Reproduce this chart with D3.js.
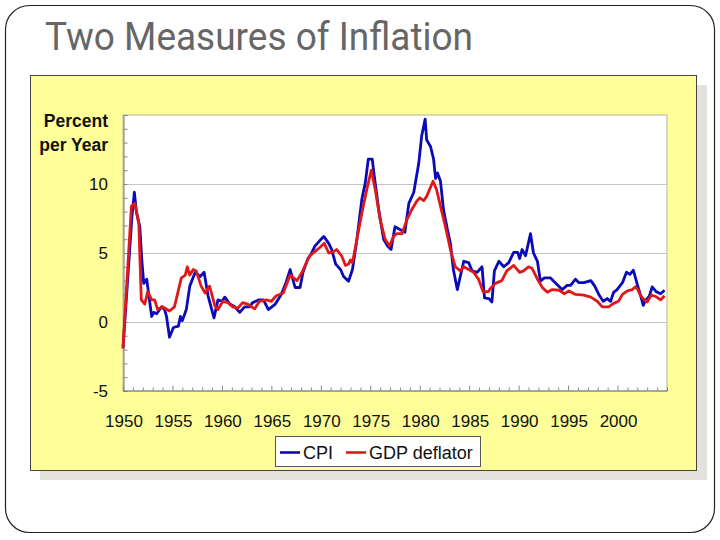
<!DOCTYPE html>
<html><head><meta charset="utf-8">
<script src="https://cdn.jsdelivr.net/npm/d3@7"></script>
<style>html,body{margin:0;padding:0;background:#fff;}svg{display:block;}</style>
</head><body>
<svg id="c" width="720" height="540"></svg>
<script>
const title = "Two Measures of Inflation";
const yTicks = [-5, 0, 5, 10];
const yearTicks = [1950,1955,1960,1965,1970,1975,1980,1985,1990,1995,2000];
const seriesNames = ["CPI", "GDP deflator"];
const cpiYears = [1950.0,1950.9,1951.15,1951.35,1951.7,1951.9,1952.1,1952.4,1952.6,1952.9,1953.1,1953.4,1953.9,1954.2,1954.4,1954.7,1955.1,1955.6,1955.8,1956.0,1956.4,1956.75,1957.3,1957.8,1958.2,1958.6,1959.2,1959.6,1960.0,1960.3,1960.8,1961.3,1961.8,1962.3,1962.8,1963.1,1963.7,1964.2,1964.7,1965.4,1966.0,1966.5,1966.9,1967.4,1967.9,1968.2,1968.7,1969.0,1969.4,1969.9,1970.3,1970.8,1971.1,1971.5,1972.0,1972.3,1972.8,1973.2,1973.65,1974.15,1974.5,1974.8,1975.2,1975.4,1975.85,1976.35,1976.75,1977.1,1977.5,1978.0,1978.5,1978.9,1979.4,1979.9,1980.2,1980.55,1980.7,1981.1,1981.4,1981.6,1981.8,1982.1,1982.4,1982.8,1983.1,1983.4,1983.8,1984.1,1984.45,1984.95,1985.3,1985.8,1986.3,1986.55,1987.0,1987.3,1987.55,1988.0,1988.5,1989.0,1989.5,1989.9,1990.1,1990.35,1990.7,1991.2,1991.5,1991.9,1992.2,1992.6,1993.2,1993.7,1994.4,1994.9,1995.25,1995.75,1996.1,1996.6,1997.3,1997.7,1998.1,1998.55,1998.95,1999.3,1999.6,1999.95,2000.5,2000.9,2001.25,2001.6,2002.0,2002.3,2002.6,2002.85,2003.2,2003.5,2003.9,2004.35,2004.75];
const cpiValues = [-1.9,7.6,9.4,8.0,6.9,4.5,2.8,3.1,2.0,0.4,0.7,0.6,1.1,0.9,0.4,-1.1,-0.4,-0.3,0.4,0.1,0.9,2.6,3.6,3.3,3.6,1.9,0.3,1.6,1.5,1.8,1.3,1.1,0.7,1.1,1.1,1.4,1.6,1.6,0.9,1.3,2.0,2.9,3.8,2.5,2.5,3.6,4.6,4.9,5.5,5.9,6.2,5.7,5.25,4.2,3.8,3.3,2.95,3.8,6.0,8.9,10.1,11.8,11.8,10.6,8.15,6.0,5.5,5.25,6.9,6.7,6.5,8.6,9.4,11.5,13.5,14.7,13.2,12.7,11.8,10.4,10.8,10.2,8.15,6.7,5.7,3.8,2.35,3.3,4.4,4.3,3.7,3.6,4.0,1.75,1.7,1.45,3.7,4.4,4.0,4.3,5.05,5.05,4.6,5.25,4.8,6.4,5.0,4.4,2.95,3.2,3.2,2.85,2.35,2.65,2.65,3.1,2.85,2.85,3.0,2.6,2.0,1.5,1.7,1.5,2.15,2.35,2.85,3.6,3.45,3.75,2.7,2.0,1.2,1.6,1.85,2.55,2.2,2.05,2.3];
const gdpYears = [1950.0,1950.85,1951.2,1951.6,1951.85,1952.2,1952.5,1952.9,1953.2,1953.5,1954.0,1954.7,1955.2,1955.9,1956.3,1956.5,1956.75,1957.1,1957.4,1957.9,1958.3,1958.75,1959.3,1959.6,1960.1,1960.6,1961.1,1961.6,1962.1,1962.6,1963.3,1963.8,1964.5,1965.0,1965.5,1966.2,1966.9,1967.6,1968.1,1968.6,1968.9,1969.4,1969.9,1970.35,1970.8,1971.3,1971.6,1972.1,1972.5,1972.8,1973.0,1973.2,1973.65,1974.15,1974.65,1975.1,1975.5,1976.0,1976.5,1976.95,1977.35,1977.7,1978.2,1978.7,1979.2,1979.7,1980.0,1980.4,1980.7,1981.35,1981.7,1982.1,1982.6,1983.1,1983.6,1984.1,1984.45,1984.95,1985.45,1985.95,1986.4,1986.95,1987.1,1987.65,1988.3,1988.8,1989.5,1990.1,1990.5,1991.0,1991.35,1991.9,1992.4,1992.9,1993.4,1994.1,1994.6,1995.1,1995.75,1996.6,1997.3,1997.95,1998.45,1999.1,1999.6,2000.1,2000.5,2001.0,2001.5,2001.8,2002.05,2002.3,2002.7,2003.0,2003.4,2003.85,2004.35,2004.75];
const gdpValues = [-1.9,8.4,8.6,7.1,1.6,1.3,2.2,1.6,1.6,0.9,1.1,0.8,1.1,3.2,3.4,4.0,3.4,3.8,3.7,2.6,2.1,2.6,1.15,0.9,1.5,1.4,1.1,1.0,1.4,1.3,0.95,1.5,1.6,1.5,1.9,2.1,3.4,3.0,3.6,4.4,4.8,5.1,5.4,5.7,5.0,5.1,5.25,4.8,4.1,4.2,4.5,4.3,6.0,7.9,9.6,11.0,9.6,7.4,6.0,5.5,6.2,6.4,6.4,7.4,8.15,8.75,9.0,8.8,9.1,10.2,9.6,8.4,6.9,5.25,4.0,3.7,4.0,3.8,3.6,3.1,2.2,2.2,2.4,2.8,3.0,3.7,4.1,3.6,3.7,4.0,3.9,3.1,2.5,2.15,2.35,2.3,2.05,2.25,2.0,1.95,1.8,1.5,1.1,1.1,1.35,1.5,2.0,2.25,2.35,2.55,2.35,1.95,1.6,1.45,1.95,1.85,1.6,1.9];

const svg = d3.select("#c");
const F = "'Liberation Sans', Arial, sans-serif";

// slide frame
svg.append("rect").attr("x",5.5).attr("y",5.5).attr("width",709).attr("height",527)
  .attr("rx",24).attr("ry",24).attr("fill","#fff").attr("stroke","#222").attr("stroke-width",1.2);

svg.append("text").attr("x",45).attr("y",50).text(title)
  .attr("font-family","'Liberation Sans Narrow', 'Roboto', sans-serif").attr("font-size",38)
  .attr("fill","#666").attr("textLength",428).attr("lengthAdjust","spacingAndGlyphs");

// panel with shadow
svg.append("rect").attr("x",40).attr("y",85).attr("width",667).attr("height",395).attr("fill","#e4e2dc");
svg.append("rect").attr("x",30.5).attr("y",75.5).attr("width",666).attr("height",395)
  .attr("fill","#ffff99").attr("stroke","#444").attr("stroke-width",1);

const x = d3.scaleLinear().domain([1950, 2005]).range([123, 667]);
const y = d3.scaleLinear().domain([-5, 15]).range([391, 115]);

svg.append("rect").attr("x",123).attr("y",115).attr("width",544).attr("height",276)
  .attr("fill","#fff").attr("stroke","#b8b49a").attr("stroke-width",1);

// gridlines
svg.append("g").selectAll("line").data([0,5,10]).join("line")
  .attr("x1",123).attr("x2",667).attr("y1",d=>Math.round(y(d))+0.5).attr("y2",d=>Math.round(y(d))+0.5)
  .attr("stroke","#c4c4c4").attr("stroke-width",1.2);

// y axis (ticks inward)
const yAxis = svg.append("g").attr("transform","translate(123.5,0)")
  .call(d3.axisRight(y).tickValues(d3.range(-5,16,1)).tickSize(4).tickFormat(""));
yAxis.select(".domain").attr("stroke","#777");
yAxis.selectAll(".tick line").attr("stroke","#888");
svg.append("g").selectAll("text").data(yTicks).join("text")
  .attr("x",108).attr("y",d=>y(d)+6).attr("text-anchor","end")
  .attr("font-family",F).attr("font-size",17).attr("fill","#111").text(d=>d);
svg.append("text").attr("x",108).attr("y",127).attr("text-anchor","end")
  .attr("font-family",F).attr("font-size",17.5).attr("font-weight","bold").attr("fill","#111").text("Percent");
svg.append("text").attr("x",108).attr("y",151).attr("text-anchor","end")
  .attr("font-family",F).attr("font-size",17.5).attr("font-weight","bold").attr("fill","#111").text("per Year");

// x axis (ticks inward)
const xAxis = svg.append("g").attr("transform","translate(0,390.5)")
  .call(d3.axisTop(x).tickValues(d3.range(1950,2005,1)).tickSize(3).tickFormat(""));
xAxis.select(".domain").attr("stroke","#777");
xAxis.selectAll(".tick line").attr("stroke","#888").attr("y2",d=>d%5===0?-5:-3);
svg.append("g").selectAll("text").data(yearTicks).join("text")
  .attr("x",d=>x(d)+1).attr("y",427).attr("text-anchor","middle")
  .attr("font-family",F).attr("font-size",17).attr("fill","#111").text(d=>d);

// lines
const line = d3.line().x(d=>x(d[0])).y(d=>y(d[1]));
const cpi = cpiYears.map((t,i)=>[t,cpiValues[i]]);
const gdp = gdpYears.map((t,i)=>[t,gdpValues[i]]);
svg.append("path").datum(cpi).attr("d",line).attr("fill","none")
  .attr("stroke","#0a0ab8").attr("stroke-width",2.8).attr("stroke-linejoin","round");
svg.append("path").datum(gdp).attr("d",line).attr("fill","none")
  .attr("stroke","#e01818").attr("stroke-width",2.8).attr("stroke-linejoin","round");

// legend
svg.append("rect").attr("x",275.5).attr("y",436.5).attr("width",205).attr("height",30)
  .attr("fill","#fff").attr("stroke","#555").attr("stroke-width",1);
const legendColors = ["#0a0ab8","#e01818"];
const legX = [280, 346];
seriesNames.forEach((n,i)=>{
  svg.append("line").attr("x1",legX[i]).attr("x2",legX[i]+20).attr("y1",452.5).attr("y2",452.5)
    .attr("stroke",legendColors[i]).attr("stroke-width",2.6);
  svg.append("text").attr("x",legX[i]+23).attr("y",459).attr("font-family",F).attr("font-size",18)
    .attr("fill","#111").text(n);
});
</script>
</body></html>
